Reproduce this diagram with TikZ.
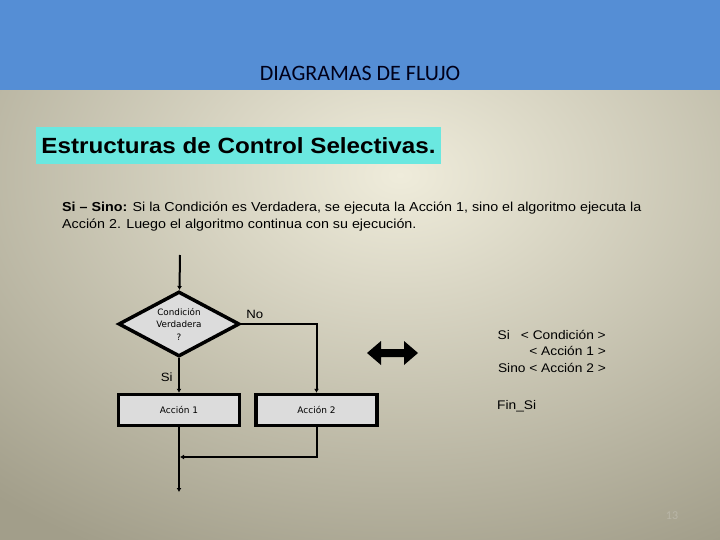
\documentclass[tikz,border=0pt]{standalone}
\usepackage{fontspec}
\setmainfont{Liberation Sans}
\newfontfamily\widefont[FakeStretch=1.1]{Liberation Sans}
\newfontfamily\titlefont{Carlito}
\newfontfamily\chartfont{DejaVu Sans}
\usetikzlibrary{shapes.geometric,arrows.meta}

\definecolor{headblue}{HTML}{558ED5}
\definecolor{bglight}{HTML}{EFECDB}
\definecolor{bgdark}{HTML}{A29E8A}
\definecolor{cyanbox}{HTML}{6AE8E0}
\definecolor{boxgray}{HTML}{DCDCDC}

\tikzset{
  flowbox/.style={draw=black,line width=3.5pt,fill=boxgray,minimum width=121pt,
    minimum height=31pt,inner sep=0pt,font=\chartfont\fontsize{9}{10.5}\selectfont},
  decision/.style={shape=diamond,draw=black,line width=3.5pt,fill=boxgray,aspect=1.8,
    minimum width=121pt,minimum height=65pt,inner sep=0pt,align=center,
    font=\chartfont\fontsize{8.8}{12.5}\selectfont},
  flowline/.style={line width=2pt,-{Latex[length=4pt,width=5pt]}},
}

\begin{document}
\begin{tikzpicture}[x=1pt,y=-1pt]
\useasboundingbox (0,0) rectangle (720,540);

% Slide background
\begin{scope}
\clip (0,90) rectangle (720,540);
\shade[inner color=bglight,outer color=bgdark] (-220,-250) rectangle (1020,600);
\end{scope}
\fill[headblue] (0,0) rectangle (720,90);
\node[font=\titlefont\fontsize{22}{26}\selectfont,text=black!90!blue] (title) at (360,73) {DIAGRAMAS DE FLUJO};

% Heading and explanation
\node[fill=cyanbox,minimum width=405pt,minimum height=37pt,inner sep=0pt,
  font=\widefont\bfseries\fontsize{22}{26}\selectfont] (heading) at (238.5,145.5) {Estructuras de Control Selectivas.};
\node[anchor=north west,align=left,inner sep=0pt,font=\widefont\fontsize{13}{17}\selectfont] (intro) at (62,202)
  {\textbf{Si – Sino:} Si la Condición es Verdadera, se ejecuta la Acción 1, sino el algoritmo ejecuta la\\
   Acción 2. Luego el algoritmo continua con su ejecución.};

% Flowchart
\coordinate (start) at (180,255);
\node[decision] (cond) at (179,324) {Condición\\Verdadera\\?};
\node[flowbox] (acc1) at (179,410) {Acción 1};
\node[flowbox] (acc2) at (316.5,410) {Acción 2};
\coordinate (join) at (180,457);
\coordinate (finish) at (179,492);

\draw[flowline] (start) -- (cond);
\draw[flowline] (cond) -- node[left=2pt,pos=0.55,font=\widefont\fontsize{12}{14}\selectfont] (lblsi) {Si} (acc1);
\draw[flowline] (cond.east) -| node[above=1pt,pos=0.09,font=\widefont\fontsize{12}{14}\selectfont] (lblno) {No} (acc2.north);
\draw[flowline] (acc1) -- (finish);
\draw[flowline] (acc2.south) |- (join);

% Equivalence arrow
\fill[black] (367,353) -- (381,341) -- (381,349) -- (404,349) -- (404,341) -- (418,353)
  -- (404,365) -- (404,357) -- (381,357) -- (381,365) -- cycle;

% Pseudocode
\node[anchor=north east,align=right,inner sep=0pt,font=\widefont\fontsize{12.5}{16.5}\selectfont] (pseudo) at (606,330)
  {Si\hspace{11pt}< Condición >\\ < Acción 1 >\\ Sino < Acción 2 >};
\node[anchor=base west,inner sep=0pt,font=\widefont\fontsize{12.5}{15}\selectfont] (finsi) at (497,409) {Fin\_Si};

\node[font=\titlefont\fontsize{12}{14}\selectfont,text=bgdark!75!white] (pagenum) at (672,516) {13};
\end{tikzpicture}
\end{document}
